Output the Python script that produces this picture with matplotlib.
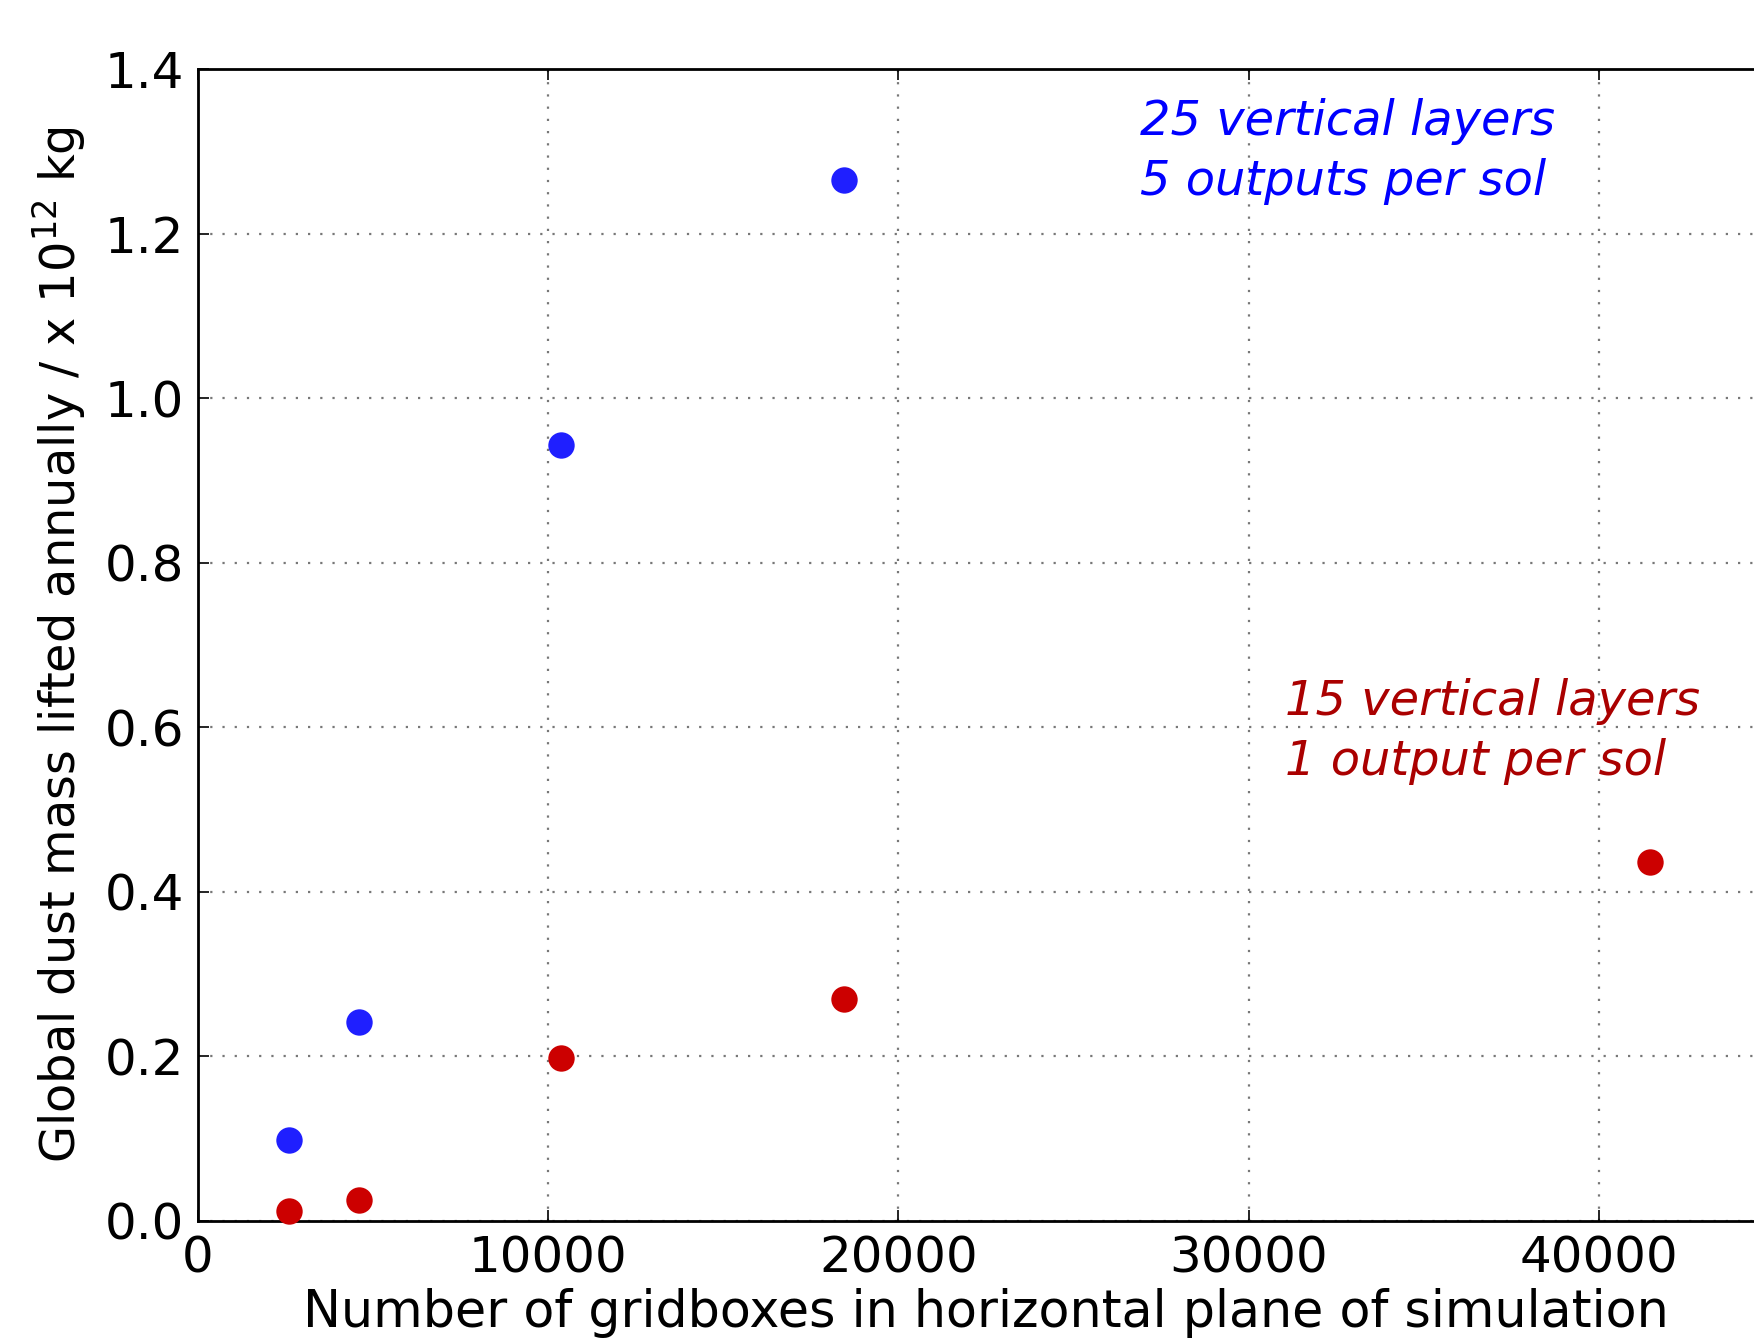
import matplotlib
matplotlib.use('Agg')
import matplotlib.pyplot as plt

# Numero de celdas horizontales (72x36, 96x48, 144x72, 192x96, 288x144)
celdas_25 = [2592, 4608, 10368, 18432]
masa_25 = [0.098, 0.242, 0.943, 1.265]

celdas_15 = [2592, 4608, 10368, 18432, 41472]
masa_15 = [0.012, 0.026, 0.198, 0.270, 0.436]

fig = plt.figure(figsize=(17.54, 13.40), dpi=100)
ax = fig.add_axes([198 / 1754, 119 / 1340, 1576 / 1754, 1152 / 1340])

ax.plot(celdas_25, masa_25, 'o', color='#1f1fff', markersize=19, markeredgewidth=0,
        clip_on=False, zorder=3)
ax.plot(celdas_15, masa_15, 'o', color='#cc0000', markersize=19, markeredgewidth=0,
        clip_on=False, zorder=3)

ax.set_xlim(0, 45000)
ax.set_ylim(0, 1.4)
ax.set_xticks([0, 10000, 20000, 30000, 40000])
ax.set_yticks([0.0, 0.2, 0.4, 0.6, 0.8, 1.0, 1.2, 1.4])
ax.set_yticklabels(['0.0', '0.2', '0.4', '0.6', '0.8', '1.0', '1.2', '1.4'])

ax.grid(True, linestyle=(0, (1, 4.5)), color='#777777', linewidth=1.6)
ax.set_axisbelow(True)
ax.tick_params(direction='in', top=True, right=True, length=8, width=1.2,
               labelsize=36, pad=10)
for s in ax.spines.values():
    s.set_linewidth(2)

ax.set_xlabel('Number of gridboxes in horizontal plane of simulation', fontsize=36.5, labelpad=4)
ax.set_ylabel('Global dust mass lifted annually / x 10$^{12}$ kg', fontsize=34.5, labelpad=12)

ax.text(26900, 1.365, '25 vertical layers\n5 outputs per sol', color='#0000ff',
        fontsize=34.5, style='italic', va='top', ha='left', linespacing=1.35)
ax.text(31050, 0.66, '15 vertical layers\n1 output per sol', color='#aa0000',
        fontsize=34.5, style='italic', va='top', ha='left', linespacing=1.35)

plt.savefig('out.png', dpi=100)
